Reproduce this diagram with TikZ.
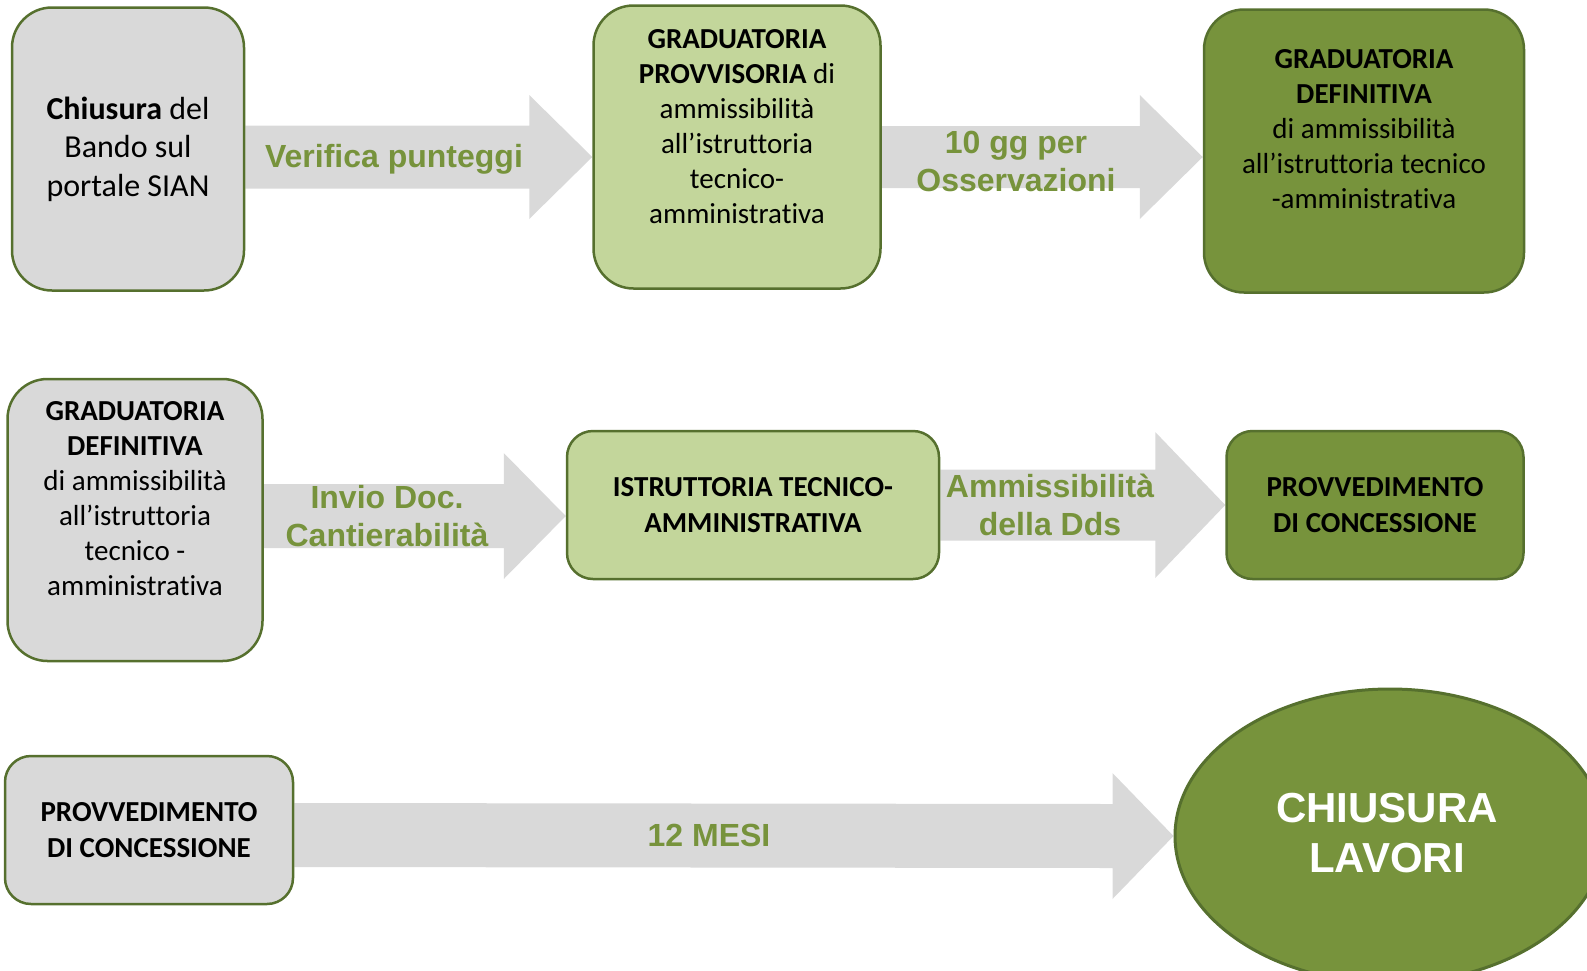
\documentclass[tikz,border=0pt]{standalone}
\usepackage{fontspec}
\setmainfont{Carlito}[Ligatures=NoCommon]
\newfontfamily\arialfont{Liberation Sans}
\usetikzlibrary{calc,
                backgrounds,
                shapes.geometric}
\definecolor{grigio}{HTML}{D9D9D9}
\definecolor{verdechiaro}{HTML}{C3D69B}
\definecolor{verdescuro}{HTML}{77933C}
\definecolor{bordo}{HTML}{56702E}
\tikzset{
casella/.style = {draw=bordo, line width=2.5pt, rounded corners=40pt, inner sep=0pt,
                  align=center, font=\fontsize{29}{35}\selectfont}
         }
\tikzset{
etichetta/.style = {text=verdescuro, align=center, inner sep=0pt,
                    font=\arialfont\bfseries\fontsize{32}{38}\selectfont}
         }
\tikzset{
freccia/.style = {fill=grigio}
         }
% freccia larga: inizio, punta, mezza asta, mezza testa, lunghezza testa
\newcommand{\frecciona}[5]{%
  \fill[freccia] ($(#1)+(0,#3)$) -- ($(#2)+(-#5,#3)$) -- ($(#2)+(-#5,#4)$) -- (#2)
    -- ($(#2)+(-#5,-#4)$) -- ($(#2)+(-#5,-#3)$) -- ($(#1)+(0,-#3)$) -- cycle;}

\begin{document}
\begin{tikzpicture}[x=1pt,y=-1pt]
    \useasboundingbox (0,0) rectangle (1587,970);
    \clip (0,0) rectangle (1587,970);

    % PRIMA RIGA
    \node[casella, fill=grigio, minimum width=232pt, minimum height=283pt,
          font=\fontsize{32}{38.5}\selectfont] (chiusbando) at (128,149)
          {\textbf{Chiusura} del\\Bando sul\\portale SIAN};
    \node[casella, fill=verdechiaro, minimum width=287pt, minimum height=283pt] (gradprovv) at (737,147)
          {\textbf{GRADUATORIA}\\\textbf{PROVVISORIA} di\\ammissibilità\\all’istruttoria\\tecnico-\\amministrativa\\[7pt]\mbox{}};
    \node[casella, fill=verdescuro, minimum width=320pt, minimum height=283pt] (graddef) at (1364,151)
          {\textbf{GRADUATORIA}\\\textbf{DEFINITIVA}\\di ammissibilità\\all’istruttoria tecnico\\-amministrativa\\[9pt]\mbox{}};

    % SECONDA RIGA
    \node[casella, fill=grigio, minimum width=255pt, minimum height=282pt] (graddefdue) at (135,520)
          {\textbf{GRADUATORIA}\\\textbf{DEFINITIVA}\\di ammissibilità\\all’istruttoria\\tecnico -\\amministrativa\\[9pt]\mbox{}};
    \node[casella, fill=verdechiaro, rounded corners=26pt, minimum width=372pt, minimum height=148pt,
          font=\bfseries\fontsize{29}{36}\selectfont] (istruttoria) at (753,505)
          {ISTRUTTORIA TECNICO-\\AMMINISTRATIVA};
    \node[casella, fill=verdescuro, rounded corners=26pt, minimum width=297pt, minimum height=148pt,
          font=\bfseries\fontsize{29}{36}\selectfont] (provv) at (1375,505)
          {PROVVEDIMENTO\\DI CONCESSIONE};

    % TERZA RIGA
    \node[casella, fill=grigio, rounded corners=26pt, minimum width=288pt, minimum height=148pt,
          font=\bfseries\fontsize{29}{36}\selectfont] (provvdue) at (149,830)
          {PROVVEDIMENTO\\DI CONCESSIONE};
    \node[draw=bordo, line width=3pt, fill=verdescuro, ellipse, inner sep=0pt,
          minimum width=430pt, minimum height=294pt] (fine) at (1390,836) {};
    \node[text=white, align=center, inner sep=0pt,
          font=\arialfont\bfseries\fontsize{42}{50.5}\selectfont] (finetesto) at (1387,833)
          {CHIUSURA\\LAVORI};

    % FRECCE
    \begin{scope}[on background layer]
        \coordinate (f1a) at (chiusbando.east |- 0,157);
        \coordinate (f1b) at (gradprovv.west |- 0,157);
        \frecciona{f1a}{f1b}{31.5}{62}{63}
        \coordinate (f2a) at (gradprovv.east |- 0,157);
        \coordinate (f2b) at (graddef.west |- 0,157);
        \frecciona{f2a}{f2b}{31}{62}{63}
        \coordinate (f3a) at (graddefdue.east |- 0,516);
        \coordinate (f3b) at (istruttoria.west |- 0,516);
        \frecciona{f3a}{f3b}{32}{63}{62}
        \coordinate (f4a) at (istruttoria.east |- 0,505);
        \coordinate (f4b) at (provv.west |- 0,505);
        \frecciona{f4a}{f4b}{35.5}{73}{70}
        \coordinate (f5a) at (provvdue.east |- 0,835);
        \frecciona{f5a}{fine.west}{32}{63}{61}
    \end{scope}

    % ETICHETTE
    \node[etichetta] (et1) at (394,159) {Verifica punteggi};
    \node[etichetta] (et2) at (1016,161) {10 gg per\\Osservazioni};
    \node[etichetta] (et3) at (387,516) {Invio Doc.\\Cantierabilità};
    \node[etichetta] (et4) at (1050,505) {Ammissibilità\\della Dds};
    \node[etichetta] (et5) at (709,835) {12 MESI};

\end{tikzpicture}
\end{document}
